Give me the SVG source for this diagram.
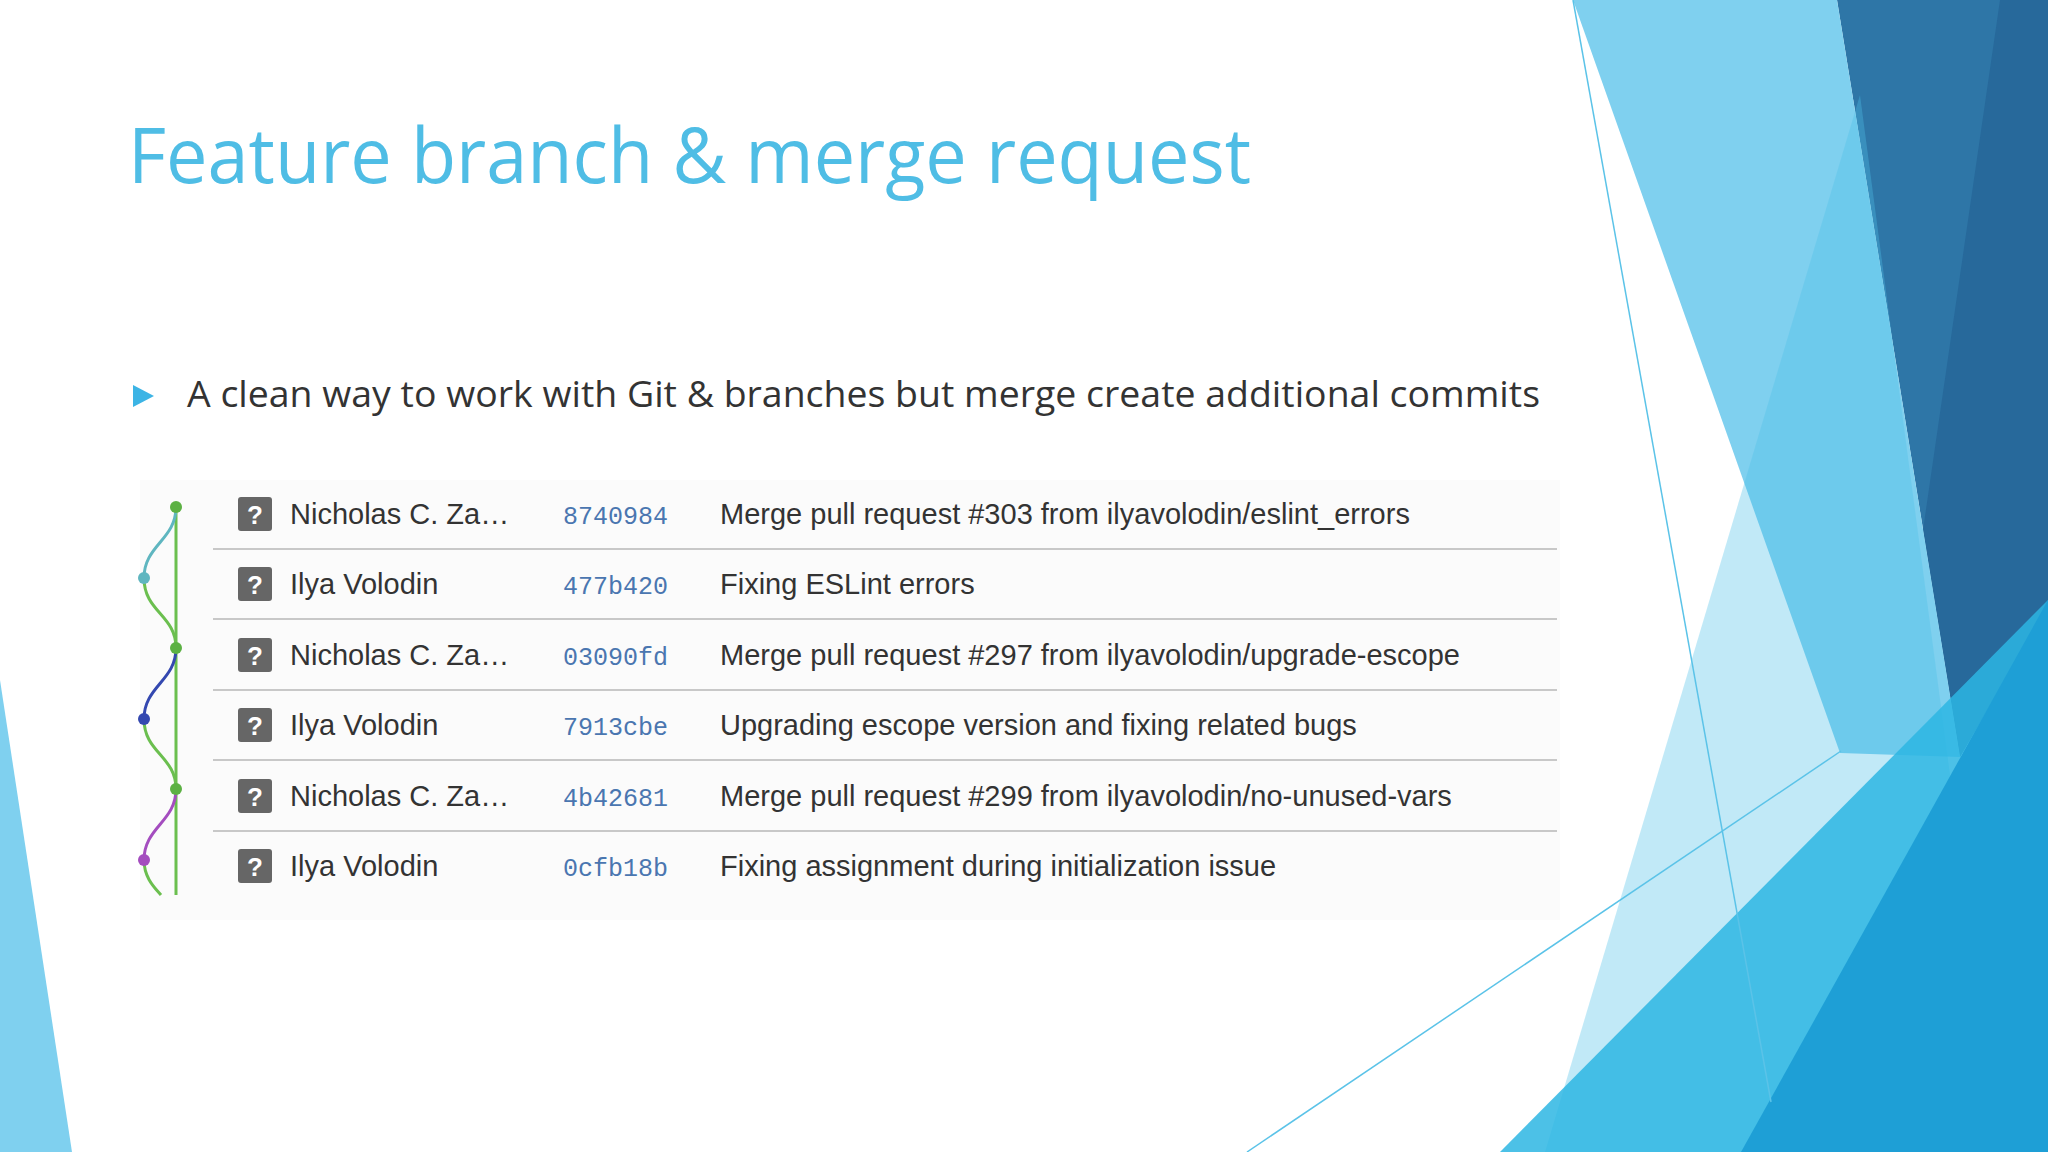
<svg xmlns="http://www.w3.org/2000/svg" width="2048" height="1152" viewBox="0 0 2048 1152">
<style>
.name{font-family:"Liberation Sans",Arial,sans-serif;font-size:29px;fill:#333}
.hash{font-family:"Liberation Mono","DejaVu Sans Mono",monospace;font-size:25px;fill:#4a76b0}
.msg{font-family:"Liberation Sans",Arial,sans-serif;font-size:29px;fill:#333}
.sep{stroke:#c8c8c8;stroke-width:2}
.ico{fill:#666}
.q{font-family:"Liberation Sans",Arial,sans-serif;font-size:26px;font-weight:bold;fill:#fff;text-anchor:middle}
</style>
<rect width="2048" height="1152" fill="#fff"/>
<g id="decor">
<polygon points="1837,0 2048,0 2048,605 1960,757" fill="#2e76a7"/>
<polygon points="2000,0 2048,0 2048,605 1960,757 1923,530" fill="#27699b"/>
<polygon points="1573,0 1837,0 1960,757 1840,753" fill="#7fd0ef"/>
<polygon points="1545,1152 1860,95 2000,1152" fill="#4cbfe9" opacity="0.35"/>
<polygon points="1500,1152 2048,600 2048,1152" fill="#2db6e3" opacity="0.85"/>
<polygon points="1741,1152 2048,600 2048,1152" fill="#1e9fd6"/>
<line x1="1573" y1="0" x2="1771" y2="1102" stroke="#5bc3e8" stroke-width="1.5"/>
<line x1="1247" y1="1152" x2="1841" y2="751" stroke="#5bc3e8" stroke-width="1.5"/>
<polygon points="0,680 72,1152 0,1152" fill="#7fd0ef"/>
</g>
<text id="title" x="128" y="183" font-family="'Open Sans',sans-serif" font-size="76" fill="#4fbde5" textLength="1123" lengthAdjust="spacingAndGlyphs">Feature branch &amp; merge request</text>
<g id="bullet">
<polygon points="133,385 154,396 133,407" fill="#3cb4e5"/>
<text x="187" y="407" font-family="'Open Sans',sans-serif" font-size="37" fill="#333" textLength="1353" lengthAdjust="spacingAndGlyphs">A clean way to work with Git &amp; branches but merge create additional commits</text>
</g>
<rect x="140" y="480" width="1420" height="440" fill="#fbfbfb"/>
<g id="connectors" fill="none" stroke-width="3">
<line x1="176" y1="507" x2="176" y2="895" stroke="#6bbf4f"/>
<path d="M176,507 C176,540 144,545 144,578" stroke="#5fb6c0"/>
<path d="M144,578 C144,612 176,615 176,648" stroke="#6bbf4f"/>
<path d="M176,648 C176,681 144,686 144,719" stroke="#3448b0"/>
<path d="M144,719 C144,753 176,756 176,789" stroke="#6bbf4f"/>
<path d="M176,789 C176,822 144,827 144,860" stroke="#a44dbf"/>
<path d="M144,860 C144,878 155,888 161,895" stroke="#6bbf4f"/>
</g>
<g id="commits">
<circle cx="176" cy="507" r="6" fill="#5cb143"/>
<circle cx="144" cy="578" r="6" fill="#5fb6c0"/>
<circle cx="176" cy="648" r="6" fill="#5cb143"/>
<circle cx="144" cy="719" r="6" fill="#3448b0"/>
<circle cx="176" cy="789" r="6" fill="#5cb143"/>
<circle cx="144" cy="860" r="6" fill="#a44dbf"/>
</g>
<g id="separators">
<line class="sep" x1="213" y1="549" x2="1557" y2="549"/>
<line class="sep" x1="213" y1="619" x2="1557" y2="619"/>
<line class="sep" x1="213" y1="690" x2="1557" y2="690"/>
<line class="sep" x1="213" y1="760" x2="1557" y2="760"/>
<line class="sep" x1="213" y1="831" x2="1557" y2="831"/>
</g>
<g id="row1"><rect class="ico" x="238" y="497" width="34" height="34" rx="3"/><text class="q" x="255" y="524">?</text><text class="name" x="290" y="524">Nicholas C. Za…</text><text class="hash" x="563" y="524">8740984</text><text class="msg" x="720" y="524">Merge pull request #303 from ilyavolodin/eslint_errors</text></g>
<g id="row2"><rect class="ico" x="238" y="567" width="34" height="34" rx="3"/><text class="q" x="255" y="594">?</text><text class="name" x="290" y="594">Ilya Volodin</text><text class="hash" x="563" y="594">477b420</text><text class="msg" x="720" y="594">Fixing ESLint errors</text></g>
<g id="row3"><rect class="ico" x="238" y="638" width="34" height="34" rx="3"/><text class="q" x="255" y="665">?</text><text class="name" x="290" y="665">Nicholas C. Za…</text><text class="hash" x="563" y="665">03090fd</text><text class="msg" x="720" y="665">Merge pull request #297 from ilyavolodin/upgrade-escope</text></g>
<g id="row4"><rect class="ico" x="238" y="708" width="34" height="34" rx="3"/><text class="q" x="255" y="735">?</text><text class="name" x="290" y="735">Ilya Volodin</text><text class="hash" x="563" y="735">7913cbe</text><text class="msg" x="720" y="735">Upgrading escope version and fixing related bugs</text></g>
<g id="row5"><rect class="ico" x="238" y="779" width="34" height="34" rx="3"/><text class="q" x="255" y="806">?</text><text class="name" x="290" y="806">Nicholas C. Za…</text><text class="hash" x="563" y="806">4b42681</text><text class="msg" x="720" y="806">Merge pull request #299 from ilyavolodin/no-unused-vars</text></g>
<g id="row6"><rect class="ico" x="238" y="849" width="34" height="34" rx="3"/><text class="q" x="255" y="876">?</text><text class="name" x="290" y="876">Ilya Volodin</text><text class="hash" x="563" y="876">0cfb18b</text><text class="msg" x="720" y="876">Fixing assignment during initialization issue</text></g>
</svg>
